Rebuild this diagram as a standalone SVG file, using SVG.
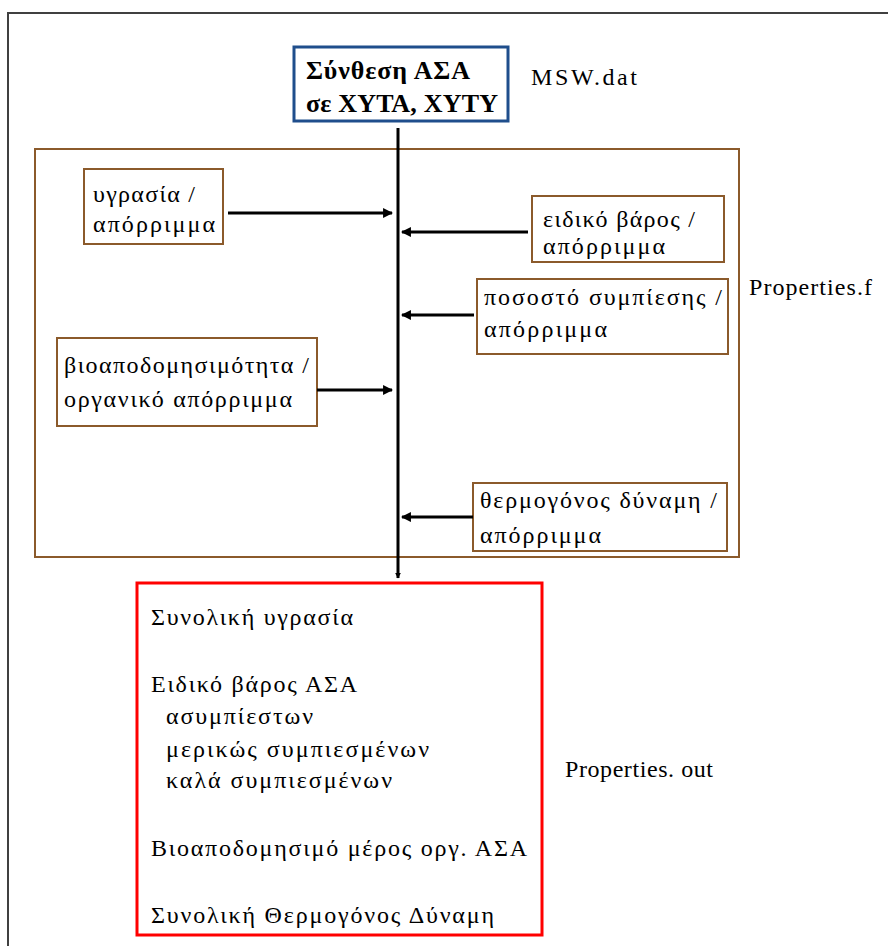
<svg xmlns="http://www.w3.org/2000/svg" width="888" height="946" viewBox="0 0 888 946" font-family="Liberation Serif, serif">
<style>
text{font-size:24px;fill:#000}
.b{font-weight:bold;font-size:26px}
.box{fill:#fff;stroke:#8B5A2B;stroke-width:2}
.arr{stroke:#000;stroke-width:3;fill:none}
</style>
<defs>
<marker id="ah" viewBox="0 0 10 10" refX="9" refY="5" markerWidth="3.3" markerHeight="3.3" orient="auto" markerUnits="strokeWidth">
<path d="M0,0 L10,5 L0,10 Z" fill="#000"/>
</marker>
<marker id="ah2" viewBox="0 0 10 10" refX="9" refY="5" markerWidth="2" markerHeight="2" orient="auto" markerUnits="strokeWidth">
<path d="M0,0 L10,5 L0,10 Z" fill="#000"/>
</marker>
</defs>
<rect x="0" y="0" width="888" height="946" fill="#fff"/>
<rect id="frame" x="8" y="13" width="900" height="960" fill="none" stroke="#404040" stroke-width="2"/>

<g id="properties-f" font-family="Liberation Serif, serif">
<rect x="35" y="149" width="704" height="408" fill="none" stroke="#8B5A2B" stroke-width="2"/>
<text x="749" y="295" textLength="123" lengthAdjust="spacing">Properties.f</text>
</g>

<g id="msw" font-family="Liberation Serif, serif">
<rect x="294" y="47" width="214" height="74" fill="#fff" stroke="#1F4E8C" stroke-width="3"/>
<text class="b" x="306" y="79" textLength="164" lengthAdjust="spacing">Σύνθεση ΑΣΑ</text>
<text class="b" x="306" y="112" textLength="192" lengthAdjust="spacing">σε ΧΥΤΑ, ΧΥΤΥ</text>
<text x="531" y="85" textLength="106" lengthAdjust="spacing">MSW.dat</text>
</g>

<g id="n-ygrasia" font-family="Liberation Serif, serif">
<rect class="box" x="84" y="169" width="139" height="75"/>
<text x="93" y="202" textLength="102" lengthAdjust="spacing">υγρασία /</text>
<text x="93" y="232" textLength="122" lengthAdjust="spacing">απόρριμμα</text>
</g>

<g id="n-eidiko" font-family="Liberation Serif, serif">
<rect class="box" x="532" y="196" width="192" height="66"/>
<text x="543" y="227" textLength="152" lengthAdjust="spacing">ειδικό βάρος /</text>
<text x="543" y="254" textLength="122" lengthAdjust="spacing">απόρριμμα</text>
</g>

<g id="n-pososto" font-family="Liberation Serif, serif">
<rect class="box" x="477" y="279" width="251" height="75"/>
<text x="484" y="305" textLength="238" lengthAdjust="spacing">ποσοστό συμπίεσης /</text>
<text x="484" y="337" textLength="123" lengthAdjust="spacing">απόρριμμα</text>
</g>

<g id="n-bio" font-family="Liberation Serif, serif">
<rect class="box" x="57" y="338" width="260" height="88"/>
<text x="64" y="373" textLength="245" lengthAdjust="spacing">βιοαποδομησιμότητα /</text>
<text x="64" y="407" textLength="228" lengthAdjust="spacing">οργανικό απόρριμμα</text>
</g>

<g id="n-thermo" font-family="Liberation Serif, serif">
<rect class="box" x="473" y="483" width="254" height="68"/>
<text x="480" y="508" textLength="237" lengthAdjust="spacing">θερμογόνος δύναμη /</text>
<text x="480" y="543" textLength="121" lengthAdjust="spacing">απόρριμμα</text>
</g>

<g id="connectors">
<line class="arr" x1="398" y1="128" x2="398" y2="578" stroke-width="5" marker-end="url(#ah2)"/>
<line class="arr" x1="228" y1="213" x2="392" y2="213" marker-end="url(#ah)"/>
<line class="arr" x1="317" y1="390" x2="392" y2="390" marker-end="url(#ah)"/>
<line class="arr" x1="528" y1="232" x2="402" y2="232" marker-end="url(#ah)"/>
<line class="arr" x1="474" y1="315" x2="402" y2="315" marker-end="url(#ah)"/>
<line class="arr" x1="473" y1="517" x2="402" y2="517" marker-end="url(#ah)"/>
</g>

<g id="properties-out" font-family="Liberation Serif, serif">
<rect x="137" y="583" width="405" height="352" fill="#fff" stroke="#FF0000" stroke-width="3"/>
<text x="151" y="625" textLength="202" lengthAdjust="spacing">Συνολική υγρασία</text>
<text x="151" y="692" textLength="206" lengthAdjust="spacing">Ειδικό βάρος ΑΣΑ</text>
<text x="166" y="724" textLength="147" lengthAdjust="spacing">ασυμπίεστων</text>
<text x="166" y="757" textLength="263" lengthAdjust="spacing">μερικώς συμπιεσμένων</text>
<text x="166" y="788" textLength="226" lengthAdjust="spacing">καλά συμπιεσμένων</text>
<text x="151" y="856" textLength="376" lengthAdjust="spacing">Βιοαποδομησιμό μέρος οργ. ΑΣΑ</text>
<text x="151" y="923" textLength="343" lengthAdjust="spacing">Συνολική Θερμογόνος Δύναμη</text>
<text x="565" y="777" textLength="148" lengthAdjust="spacing">Properties. out</text>
</g>
</svg>
